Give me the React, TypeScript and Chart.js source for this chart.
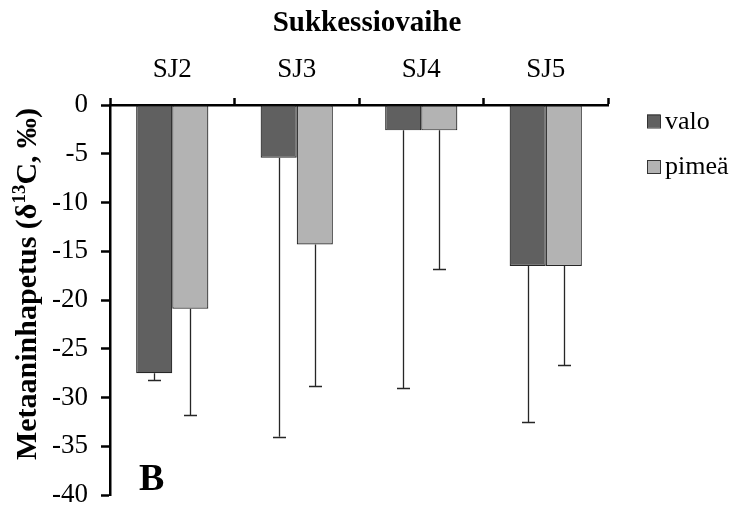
import React, { useEffect, useRef } from "react";
import { Chart, registerables } from "chart.js";

Chart.register(...registerables);

// Succession stages along the top axis
const categories = ["SJ2", "SJ3", "SJ4", "SJ5"];

// Mean methane oxidation (δ13C, ‰) and one-sided error (downwards)
const valoMeans = [-27.5, -5.4, -2.6, -16.5];
const valoErrors = [0.7, 28.6, 26.4, 16.0];
const pimeaMeans = [-20.9, -14.3, -2.6, -16.5];
const pimeaErrors = [10.9, 14.5, 14.2, 10.2];

const seriesNames = ["valo", "pimeä"];
const seriesColors = ["#606060", "#b3b3b3"];

const yMin = -40;
const yMax = 0;
const yStep = 5;

const W = 733;
const H = 508;
const SERIF = "'Liberation Serif', 'Times New Roman', serif";

const errorsBySeries = [valoErrors, pimeaErrors];

// Draws the downward error whiskers from the end of each bar
const errorBarPlugin = {
  id: "errorBars",
  afterDatasetsDraw(chart: any) {
    const ctx = chart.ctx;
    const yScale = chart.scales.y;
    ctx.save();
    ctx.strokeStyle = "#262626";
    ctx.lineWidth = 1.3;
    chart.data.datasets.forEach((ds: any, di: number) => {
      const meta = chart.getDatasetMeta(di);
      meta.data.forEach((bar: any, i: number) => {
        const v = ds.data[i];
        const err = errorsBySeries[di][i];
        const x = Math.round(bar.x) + 0.5;
        const y0 = bar.y;
        const y1 = yScale.getPixelForValue(v - err);
        ctx.beginPath();
        ctx.moveTo(x, y0);
        ctx.lineTo(x, y1);
        ctx.moveTo(x - 6.5, Math.round(y1) + 0.5);
        ctx.lineTo(x + 6.5, Math.round(y1) + 0.5);
        ctx.stroke();
      });
    });
    ctx.restore();
  },
};

// Title, rotated y title with superscript, panel letter and legend
const decorPlugin = {
  id: "decor",
  afterDraw(chart: any) {
    const ctx = chart.ctx;
    const area = chart.chartArea;
    ctx.save();
    ctx.fillStyle = "#000";

    // Main title above the category axis
    ctx.font = `bold 29px ${SERIF}`;
    ctx.textAlign = "center";
    ctx.textBaseline = "alphabetic";
    ctx.fillText("Sukkessiovaihe", 367, 31);

    // Y axis title: Metaaninhapetus (δ13C, ‰)
    const big = `bold 30px ${SERIF}`;
    const small = `bold 19px ${SERIF}`;
    const parts: [string, string, number][] = [
      ["Metaaninhapetus (δ", big, 0],
      ["13", small, -11],
      ["C, ‰)", big, 0],
    ];
    let total = 0;
    const widths = parts.map(([t, f]) => {
      ctx.font = f;
      const w = ctx.measureText(t).width;
      total += w;
      return w;
    });
    ctx.translate(36, 284);
    ctx.rotate(-Math.PI / 2);
    ctx.textAlign = "left";
    let cx = -total / 2;
    parts.forEach(([t, f, dy], i) => {
      ctx.font = f;
      ctx.fillText(t, cx, dy);
      cx += widths[i];
    });
    ctx.setTransform(1, 0, 0, 1, 0, 0);

    // Panel letter
    ctx.font = `bold 38px ${SERIF}`;
    ctx.textAlign = "left";
    ctx.fillText("B", 139, 490);

    // Legend
    const items = [
      { y: 121.5, base: 129 },
      { y: 167, base: 174 },
    ];
    items.forEach((it, i) => {
      ctx.fillStyle = seriesColors[i];
      ctx.fillRect(647, it.y - 7, 13, 13);
      ctx.strokeStyle = "#333";
      ctx.lineWidth = 1;
      ctx.strokeRect(647.5, it.y - 6.5, 13, 13);
      ctx.fillStyle = "#000";
      ctx.font = `26px ${SERIF}`;
      ctx.fillText(seriesNames[i], 665, it.base);
    });
    ctx.restore();
  },
};

export default function App() {
  const canvasRef = useRef<HTMLCanvasElement | null>(null);

  useEffect(() => {
    const canvas = canvasRef.current;
    if (!canvas) return;
    const chart = new Chart(canvas, {
      type: "bar",
      data: {
        labels: categories,
        datasets: [
          {
            label: seriesNames[0],
            data: valoMeans,
            backgroundColor: seriesColors[0],
            borderColor: "#262626",
            borderWidth: 1.2,
            borderSkipped: false,
          },
          {
            label: seriesNames[1],
            data: pimeaMeans,
            backgroundColor: seriesColors[1],
            borderColor: "#262626",
            borderWidth: 1.2,
            borderSkipped: false,
          },
        ],
      },
      options: {
        responsive: false,
        animation: false,
        devicePixelRatio: 1,
        layout: { padding: { left: 0, top: 0, right: W - 608, bottom: H - 495 } },
        datasets: { bar: { categoryPercentage: 0.58, barPercentage: 1 } },
        plugins: {
          legend: { display: false },
          title: { display: false },
          tooltip: { enabled: false },
        },
        scales: {
          x: {
            position: "top",
            offset: true,
            border: { display: true, color: "#000", width: 2.5 },
            grid: {
              display: true,
              offset: true,
              drawOnChartArea: false,
              drawTicks: true,
              tickLength: 7,
              tickWidth: 2.5,
              tickColor: "#000",
            },
            ticks: {
              color: "#000",
              font: { family: SERIF, size: 27 },
              padding: 12,
              maxRotation: 0,
            },
            afterFit(scale: any) {
              scale.height = 105;
              scale.paddingLeft = 0;
              scale.paddingRight = 0;
            },
          },
          y: {
            min: yMin,
            max: yMax,
            border: { display: true, color: "#000", width: 2.5 },
            grid: {
              display: true,
              drawOnChartArea: false,
              drawTicks: true,
              tickLength: 9,
              tickWidth: 2.5,
              tickColor: "#000",
            },
            ticks: {
              stepSize: yStep,
              color: "#000",
              font: { family: SERIF, size: 27 },
              padding: 13,
            },
            afterFit(scale: any) {
              scale.width = 110;
              scale.paddingTop = 0;
              scale.paddingBottom = 0;
            },
          },
        },
      },
      plugins: [errorBarPlugin, decorPlugin],
    });
    return () => chart.destroy();
  }, []);

  return (
    <div style={{ position: "absolute", left: 0, top: 0, width: W, height: H, background: "#fff" }}>
      <canvas ref={canvasRef} width={W} height={H} style={{ display: "block" }} />
    </div>
  );
}
